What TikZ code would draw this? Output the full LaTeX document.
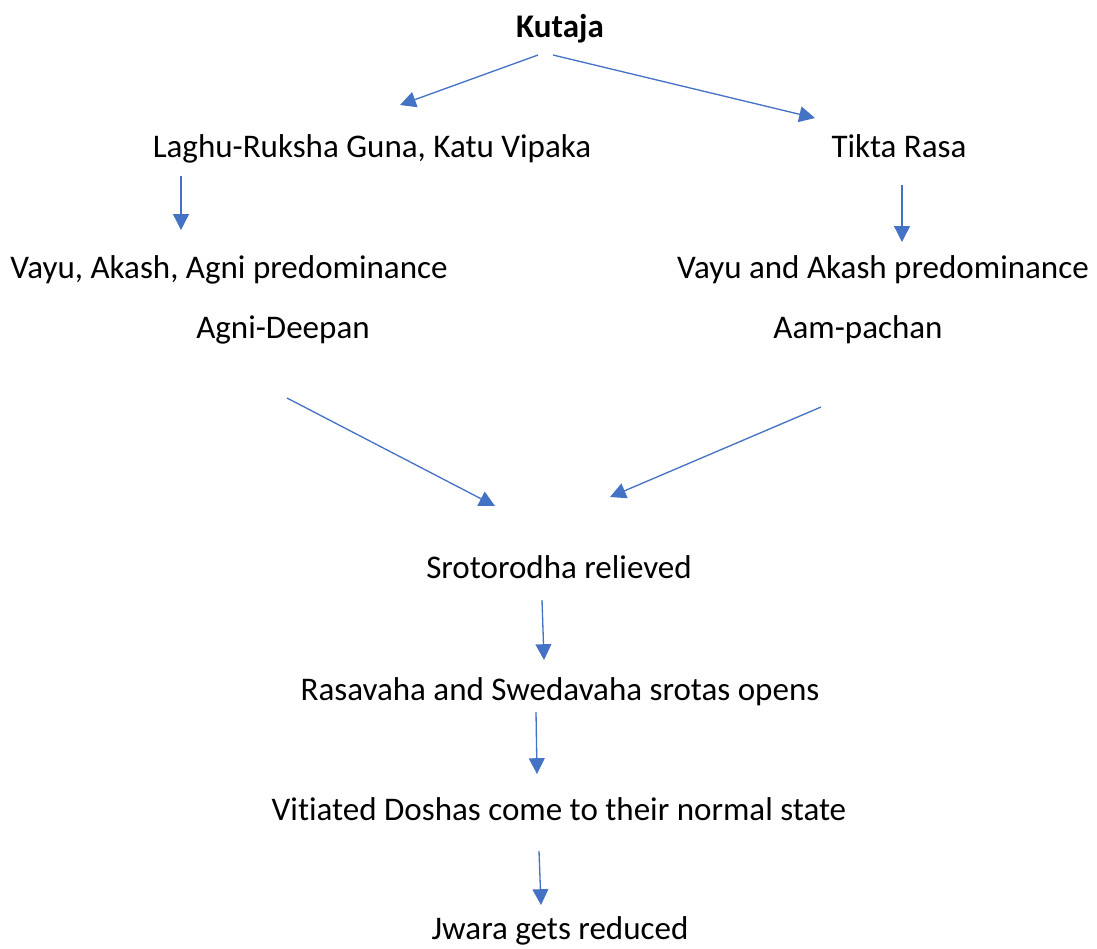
\documentclass[tikz,border=0pt]{standalone}
\usepackage{fontspec}
\setmainfont{Carlito}[Ligatures={NoCommon}]
\usepackage{xcolor}
\usetikzlibrary{arrows.meta,positioning}
\definecolor{arrowblue}{HTML}{4472C4}

\begin{document}
\begin{tikzpicture}[x=0.02cm, y=-0.02cm,
    txt/.style={font=\fontsize{18.8}{22}\selectfont, inner sep=0pt, anchor=center,
        text height=12.5pt, text depth=4pt},
    flow/.style={-{Triangle[length=9pt, width=9pt]}, arrowblue, line width=0.75pt}]

% Canvas
\useasboundingbox (0,0) rectangle (1097,948);

% Top
\node[txt, font=\fontsize{18.8}{22}\selectfont\bfseries] (kutaja) at (560,30) {Kutaja};

% Left branch
\node[txt] (guna) at (372,150) {Laghu-Ruksha Guna, Katu Vipaka};
\node[txt] (vaa) at (229,271) {Vayu, Akash, Agni predominance};
\node[txt] (deepan) at (283,331) {Agni-Deepan};

% Right branch
\node[txt] (rasa) at (899,150) {Tikta Rasa};
\node[txt] (va) at (883,271) {Vayu and Akash predominance};
\node[txt] (pachan) at (858,331) {Aam-pachan};

% Main chain
\node[txt] (sroto) at (559,571) {Srotorodha relieved};
\node[txt] (opens) at (560,693) {Rasavaha and Swedavaha srotas opens};
\node[txt] (dosha) at (559,813) {Vitiated Doshas come to their normal state};
\node[txt] (jwara) at (560,932) {Jwara gets reduced};

% Arrow ends
\coordinate (k1) at (538,55);   \coordinate (g0) at (400,105);
\coordinate (k2) at (553,55);   \coordinate (r0) at (815,118);
\coordinate (g1) at (181,176);  \coordinate (v0) at (181,230);
\coordinate (r1) at (902,185);  \coordinate (w0) at (902,242);
\coordinate (d1) at (287,398);  \coordinate (s0) at (495,506);
\coordinate (p1) at (821,407);  \coordinate (s1) at (610,497);
\coordinate (s2) at (542,600);  \coordinate (o0) at (544,660);
\coordinate (o1) at (536,712);  \coordinate (t0) at (537,774);
\coordinate (t1) at (539,851);  \coordinate (j0) at (541,905);

% Arrows
\draw[flow] (k1) -- (g0);
\draw[flow] (k2) -- (r0);
\draw[flow] (g1) -- (v0);
\draw[flow] (r1) -- (w0);
\draw[flow] (d1) -- (s0);
\draw[flow] (p1) -- (s1);
\draw[flow] (s2) -- (o0);
\draw[flow] (o1) -- (t0);
\draw[flow] (t1) -- (j0);

\end{tikzpicture}
\end{document}
